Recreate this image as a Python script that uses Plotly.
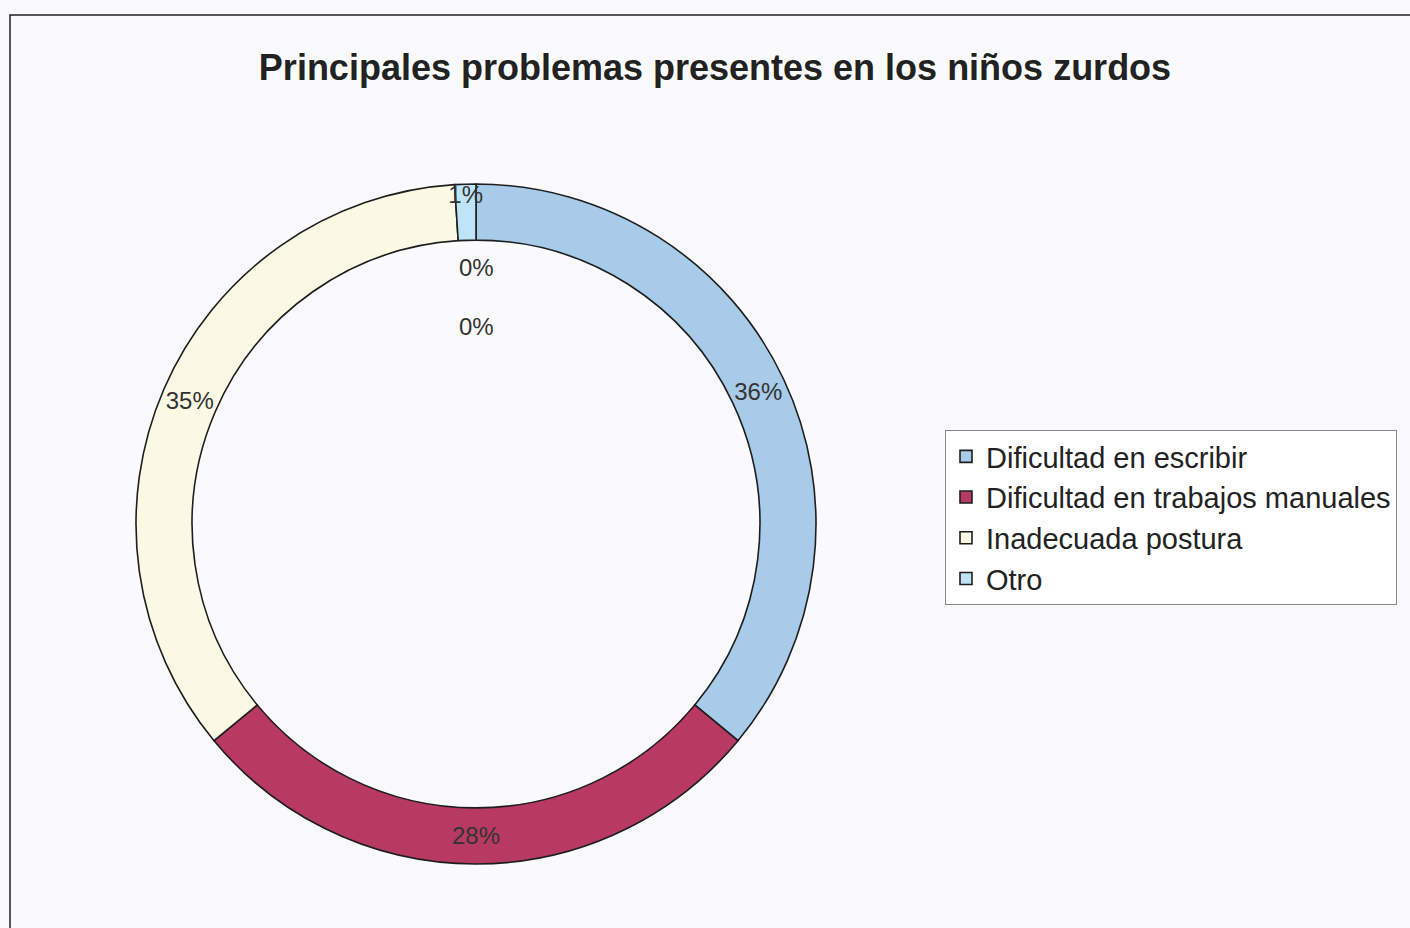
import plotly.graph_objects as go

categories = ["Dificultad en escribir", "Dificultad en trabajos manuales",
              "Inadecuada postura", "Otro"]
values = [36, 28, 35, 1]
colors = ["#a8cbe9", "#b83a62", "#fbf8e4", "#bde5f7"]
inner_labels = ["0%", "0%"]

W, H = 1410, 928
cx, cy, r = 476, 524, 340

fig = go.Figure()
fig.add_trace(go.Pie(
    labels=categories,
    values=values,
    sort=False,
    direction="clockwise",
    rotation=0,
    hole=0.835,
    marker=dict(colors=colors, line=dict(color="#1e1e1e", width=1.6)),
    texttemplate="%{percent:.0%}",
    textposition="inside",
    insidetextorientation="horizontal",
    textfont=dict(family="Liberation Sans, Arial", size=24, color="#333333"),
    domain=dict(x=[(cx - r) / W, (cx + r) / W], y=[(H - cy - r) / H, (H - cy + r) / H]),
    hoverinfo="label+percent",
))

# labels of the empty inner rings
for i, txt in enumerate(inner_labels):
    fig.add_annotation(x=cx / W, y=1 - (268 + 59 * i) / H, xref="paper", yref="paper",
                       text=txt, showarrow=False, yanchor="middle",
                       font=dict(family="Liberation Sans, Arial", size=24, color="#333333"))

# chart frame
fig.add_shape(type="rect", xref="paper", yref="paper",
              x0=10 / W, x1=1.02, y0=-0.02, y1=1 - 15 / H,
              line=dict(color="#222222", width=1.5), layer="below")

fig.update_layout(
    width=W, height=H,
    margin=dict(l=0, r=0, t=0, b=0),
    paper_bgcolor="#fafafc",
    title=dict(text="<b>Principales problemas presentes en los niños zurdos</b>",
               x=715 / W, xanchor="center", y=1 - 67 / H, yanchor="middle",
               font=dict(family="Liberation Sans, Arial", size=36, color="#222222")),
    uniformtext=dict(minsize=24, mode="show"),
    showlegend=True,
    legend=dict(x=945 / W, y=1 - 430 / H, xanchor="left", yanchor="top",
                bgcolor="#ffffff", bordercolor="#888888", borderwidth=1,
                font=dict(family="Liberation Sans, Arial", size=29, color="#222222"),
                itemwidth=30, tracegroupgap=0),
)

fig.write_html("out.html", config={"displayModeBar": False},
               post_script="document.body.style.margin='0px';")
